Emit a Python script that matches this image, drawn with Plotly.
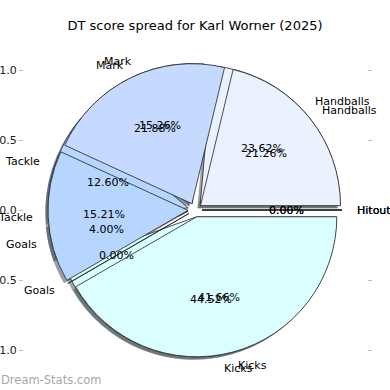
import math
import plotly.graph_objects as go

# ---------------- data ----------------
categories = ["Hitouts", "Handballs", "Mark", "Tackle", "Goals", "Kicks"]
season_a = [0.00, 23.62, 15.26, 12.60, 4.00, 44.52]   # drawn first (beneath)
season_b = [0.00, 21.26, 21.88, 15.21, 0.00, 41.66]   # drawn on top
slice_colors = ["#dde7ff", "#ebf2ff", "#c6d9ff", "#b6d5ff", "#cde1ff", "#dbffff"]
ytick_vals = [1.0, 0.5, 0.0, -0.5, -1.0]
ytick_text = ["1.0", "0.5", "0.0", "\u22120.5", "\u22121.0"]
title_text = "DT score spread for Karl Worner (2025)"
watermark = "Dream-Stats.com"

# ---------------- layout geometry ----------------
W = H = 390
ML, MR, MT, MB = 24, 23, 40, 15
PW, PH = W - ML - MR, H - MT - MB
CX, CY = 195, 210      # pie centre in pixels
UNIT = 140             # pixels per data unit (pie radius = 1)
EXPLODE = 0.05
SHADOW = 0.02
FONT = "DejaVu Sans"

xr = [(ML - CX) / UNIT, (ML + PW - CX) / UNIT]
yr = [(CY - (MT + PH)) / UNIT, (CY - MT) / UNIT]


def domain(dx=0.0, dy=0.0):
    cx = CX + dx * UNIT
    cy = CY - dy * UNIT
    h = UNIT * (1 + EXPLODE)
    return dict(x=[(cx - h - ML) / PW, (cx + h - ML) / PW],
                y=[(MT + PH - (cy + h)) / PH, (MT + PH - (cy - h)) / PH])


def shade(hexcol):
    r, g, b = (int(hexcol[i:i + 2], 16) for i in (1, 3, 5))
    return f"rgba({int(r*0.3)},{int(g*0.3)},{int(b*0.3)},0.5)"


fig = go.Figure()
# dummy trace so the cartesian axes (tick marks) exist
fig.add_trace(go.Scatter(x=[], y=[], showlegend=False, hoverinfo="skip"))

common = dict(labels=categories, sort=False, direction="counterclockwise",
              rotation=90, pull=[EXPLODE] * len(categories), textinfo="none",
              showlegend=False, hoverinfo="label+percent")

# shadows (behind all wedges)
for vals in (season_a, season_b):
    fig.add_trace(go.Pie(values=vals, domain=domain(-SHADOW, -SHADOW),
                         marker=dict(colors=[shade(c) for c in slice_colors],
                                     line=dict(width=0)), **common))
# wedges
for vals in (season_a, season_b):
    fig.add_trace(go.Pie(values=vals, domain=domain(),
                         marker=dict(colors=slice_colors,
                                     line=dict(color="#222222", width=0.8)),
                         **common))

# labels and percentages (matplotlib-style placement)
annotations = []
for vals in (season_a, season_b):
    total = sum(vals)
    start = 0.0
    for cat, v in zip(categories, vals):
        frac = v / total
        mid = math.radians(360 * (start + frac / 2))
        ox, oy = EXPLODE * math.cos(mid), EXPLODE * math.sin(mid)
        lx, ly = ox + 1.1 * math.cos(mid), oy + 1.1 * math.sin(mid)
        annotations.append(dict(x=lx, y=ly, xref="x", yref="y", text=cat,
                                showarrow=False, borderpad=0,
                                xanchor="left" if lx > 0 else "right",
                                yanchor="middle",
                                font=dict(family=FONT, size=11, color="#000")))
        px_, py_ = ox + 0.6 * math.cos(mid), oy + 0.6 * math.sin(mid)
        annotations.append(dict(x=px_, y=py_, xref="x", yref="y",
                                text=f"{frac*100:.2f}%", showarrow=False,
                                borderpad=0, xanchor="center", yanchor="middle",
                                font=dict(family=FONT, size=11, color="#000")))
        start += frac

annotations.append(dict(x=-ML / PW, y=(MT + PH - 380) / PH, xref="paper",
                        yref="paper", text=watermark, showarrow=False,
                        borderpad=0, xanchor="left", yanchor="middle",
                        font=dict(family=FONT, size=11.5, color="#a8a8a8")))

fig.update_layout(
    width=W, height=H,
    margin=dict(l=ML, r=MR, t=MT, b=MB, autoexpand=False),
    paper_bgcolor="white", plot_bgcolor="white",
    title=dict(text=title_text, x=0.5, xref="container", xanchor="center",
               y=1 - 25 / H, yref="container", yanchor="middle",
               font=dict(family=FONT, size=13, color="#000")),
    xaxis=dict(range=xr, visible=False, fixedrange=True),
    yaxis=dict(range=yr, tickvals=ytick_vals, ticktext=ytick_text,
               ticks="outside", ticklen=4, tickcolor="#c0c0c0", tickwidth=1,
               mirror="ticks", showline=False, showgrid=False, zeroline=False,
               tickfont=dict(family=FONT, size=11, color="#222"),
               fixedrange=True),
    annotations=annotations,
)

fig.write_html(
    "out.html",
    config={"displayModeBar": False},
    post_script="document.body.style.margin='0';document.body.style.overflow='hidden';",
)
